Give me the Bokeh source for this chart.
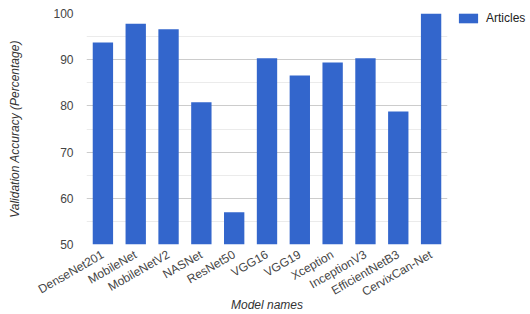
import math
from bokeh.plotting import figure
from bokeh.models import ColumnDataSource, FixedTicker, Legend, LegendItem, FactorRange
from bokeh.embed import file_html
from bokeh.resources import INLINE

models = ["DenseNet201", "MobileNet", "MobileNetV2", "NASNet", "ResNet50", "VGG16",
          "VGG19", "Xception", "InceptionV3", "EfficientNetB3", "CervixCan-Net"]
accuracy = [93.7, 97.8, 96.6, 80.8, 57.0, 90.3, 86.6, 89.4, 90.3, 78.8, 100.0]
y_ticks = [50, 60, 70, 80, 90, 100]
y_minor = [55, 65, 75, 85, 95]
series_name = "Articles"

FONT = "Liberation Sans"
src = ColumnDataSource(dict(model=models, acc=accuracy))

p = figure(x_range=FactorRange(*models, range_padding=0), y_range=(50, 100),
           frame_width=361, frame_height=231,
           min_border_left=86, min_border_top=13, min_border_bottom=60, min_border_right=0,
           output_backend="svg", toolbar_location=None)
p.outline_line_color = None

r = p.vbar(x="model", top="acc", bottom=50, width=0.62, source=src,
           fill_color="#3366CC", line_color=None)

p.yaxis.ticker = FixedTicker(ticks=y_ticks, minor_ticks=y_minor)
p.ygrid.ticker = FixedTicker(ticks=y_ticks, minor_ticks=y_minor)
p.ygrid.grid_line_color = "#cccccc"
p.ygrid.minor_grid_line_color = "#ebebeb"
p.xgrid.grid_line_color = None

for ax in (p.xaxis, p.yaxis):
    ax.axis_line_color = None
    ax.major_tick_line_color = None
    ax.minor_tick_line_color = None
    ax.major_tick_out = 0
    ax.minor_tick_out = 0
    ax.major_label_text_font = FONT
    ax.major_label_text_font_size = "12px"
    ax.major_label_text_color = "#444444"
    ax.axis_label_text_font = FONT
    ax.axis_label_text_font_size = "12px"
    ax.axis_label_text_font_style = "italic"
    ax.axis_label_text_color = "#333333"

p.yaxis.major_label_standoff = 13
p.yaxis.axis_label = "Validation Accuracy (Percentage)"
p.yaxis.axis_label_standoff = 28
p.xaxis.axis_label = "Model names"
p.xaxis.major_label_orientation = math.pi / 6
p.xaxis.major_label_standoff = 9
p.xaxis.axis_label_standoff = -10

legend = Legend(items=[LegendItem(label=series_name, renderers=[r])],
                location=(9, 219), padding=0, margin=0,
                glyph_width=24, glyph_height=12, label_height=12,
                label_standoff=6, border_line_color=None, background_fill_alpha=0,
                label_text_font=FONT, label_text_font_size="12px",
                label_text_color="#222222")
p.add_layout(legend, "right")

open("out.html", "w").write(file_html(p, INLINE))
